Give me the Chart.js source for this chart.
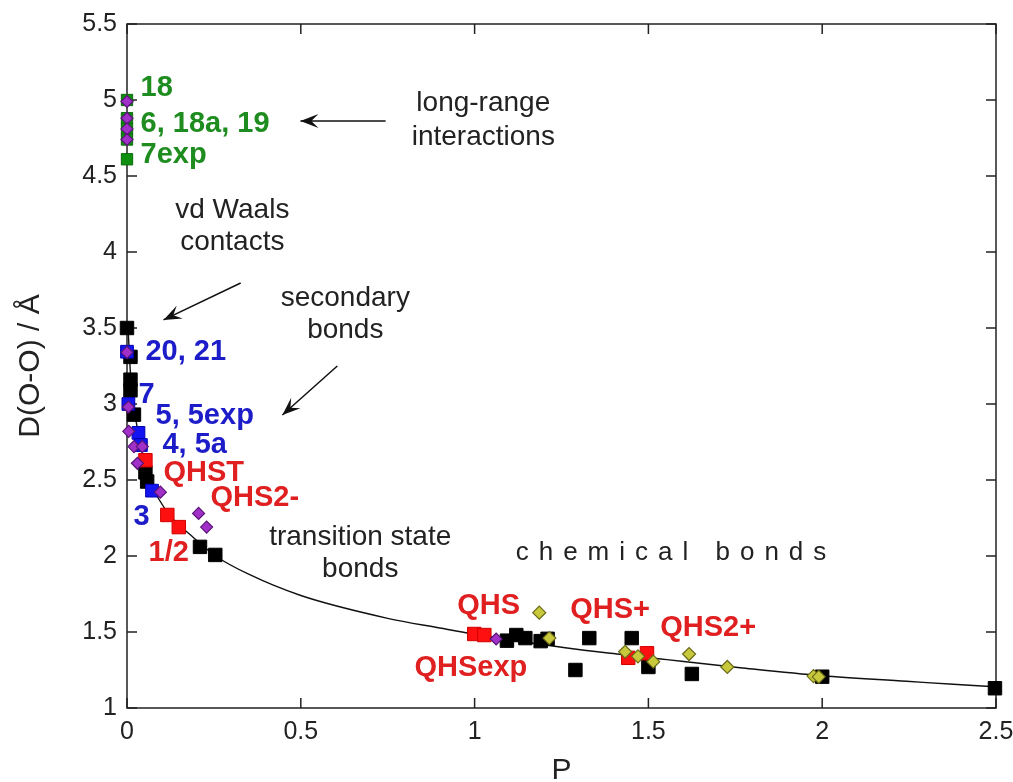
<!DOCTYPE html>
<html><head><meta charset="utf-8">
<script src="https://cdn.jsdelivr.net/npm/chart.js@4.4.1/dist/chart.umd.min.js"></script>
<style>html,body{margin:0;padding:0;background:#fff;overflow:hidden}</style>
</head><body>
<canvas id="c" width="1013" height="782"></canvas>
<script>
// ---- tick values / labels ----
const xTickValues = [0, 0.5, 1, 1.5, 2, 2.5];
const xTickLabels = ['0', '0.5', '1', '1.5', '2', '2.5'];
const yTickValues = [1, 1.5, 2, 2.5, 3, 3.5, 4, 4.5, 5, 5.5];
const yTickLabels = ['1', '1.5', '2', '2.5', '3', '3.5', '4', '4.5', '5', '5.5'];

// ---- series (P, D(O-O)) ----
const blackP = [0, 0.01, 0.01, 0.01, 0.02, 0.053, 0.058, 0.21, 0.254, 1.093, 1.12, 1.146, 1.19, 1.21, 1.29, 1.33, 1.452, 1.50, 1.625, 2.0, 2.497];
const blackD = [3.5, 3.31, 3.16, 3.09, 2.93, 2.55, 2.49, 2.06, 2.007, 1.443, 1.48, 1.46, 1.44, 1.455, 1.25, 1.46, 1.46, 1.27, 1.224, 1.206, 1.13];

const redP = [0.053, 0.116, 0.149, 0.999, 1.028, 1.442, 1.496];
const redD = [2.63, 2.27, 2.19, 1.487, 1.48, 1.33, 1.36];

const blueP = [0.0, 0.004, 0.033, 0.04, 0.072];
const blueD = [3.344, 3.0, 2.81, 2.73, 2.43];

const greenP = [0, 0, 0, 0, 0];
const greenD = [5.0, 4.88, 4.81, 4.74, 4.61];

const purpleP = [0, 0, 0, 0, 0.0, 0.004, 0.005, 0.02, 0.044, 0.03, 0.096, 0.206, 0.229, 1.062];
const purpleD = [4.99, 4.88, 4.81, 4.74, 3.34, 2.98, 2.82, 2.72, 2.72, 2.61, 2.42, 2.28, 2.19, 1.454];

const yellowP = [1.186, 1.215, 1.433, 1.47, 1.514, 1.617, 1.727, 1.975, 1.99];
const yellowD = [1.627, 1.46, 1.37, 1.34, 1.305, 1.355, 1.27, 1.21, 1.205];

const curveP = [0.003, 0.01, 0.02, 0.035, 0.05, 0.07, 0.09, 0.13, 0.187, 0.255, 0.35, 0.5, 0.75, 0.9, 1.0, 1.266, 1.41, 1.553, 1.764, 2.0, 2.243, 2.377, 2.5];
const curveD = [3.5, 3.2, 2.98, 2.78, 2.62, 2.48, 2.38, 2.25, 2.13, 2.0, 1.88, 1.74, 1.59, 1.526, 1.485, 1.395, 1.355, 1.318, 1.265, 1.212, 1.176, 1.156, 1.14];

// ---- annotation texts ----
const pointLabels = [
  {t: '18',         x: 0.039, y: 5.08,  c: '#1e8c1e'},
  {t: '6, 18a, 19', x: 0.039, y: 4.84,  c: '#1e8c1e'},
  {t: '7exp',       x: 0.039, y: 4.64,  c: '#1e8c1e'},
  {t: '20, 21',     x: 0.053, y: 3.34,  c: '#1c1cc8'},
  {t: '7',          x: 0.033, y: 3.06,  c: '#1c1cc8'},
  {t: '5, 5exp',    x: 0.082, y: 2.92,  c: '#1c1cc8'},
  {t: '4, 5a',      x: 0.102, y: 2.73,  c: '#1c1cc8'},
  {t: 'QHST',       x: 0.105, y: 2.546, c: '#e02020'},
  {t: 'QHS2-',      x: 0.24,  y: 2.38,  c: '#e02020'},
  {t: '3',          x: 0.019, y: 2.257, c: '#1c1cc8'},
  {t: '1/2',        x: 0.062, y: 2.02,  c: '#e02020'},
  {t: 'QHS',        x: 0.95,  y: 1.67,  c: '#e02020'},
  {t: 'QHSexp',     x: 0.827, y: 1.263, c: '#e02020'},
  {t: 'QHS+',       x: 1.275, y: 1.645, c: '#e02020'},
  {t: 'QHS2+',      x: 1.534, y: 1.526, c: '#e02020'}
];
const notes = [
  {t: 'long-range',       x: 1.025, y: 4.98},
  {t: 'interactions',     x: 1.025, y: 4.757},
  {t: 'vd Waals',         x: 0.303, y: 4.276},
  {t: 'contacts',         x: 0.303, y: 4.066},
  {t: 'secondary',        x: 0.628, y: 3.697},
  {t: 'bonds',            x: 0.628, y: 3.487},
  {t: 'transition state', x: 0.671, y: 2.125},
  {t: 'bonds',            x: 0.671, y: 1.914}
];
const spacedNote = {t: 'chemical bonds', x: 1.565, y: 2.02};
const arrows = [
  {x1: 0.744, y1: 4.862, x2: 0.499, y2: 4.862},
  {x1: 0.327, y1: 3.796, x2: 0.105, y2: 3.553},
  {x1: 0.605, y1: 3.25,  x2: 0.447, y2: 2.928}
];

const FONT = '"Liberation Sans", Arial, sans-serif';
const toXY = (P, D) => P.map((p, i) => ({x: p, y: D[i]}));

const framePlugin = {
  id: 'frame',
  beforeDatasetsDraw(chart) {
    const {ctx, chartArea: a, scales: {x, y}} = chart;
    ctx.save();
    ctx.strokeStyle = '#222';
    ctx.lineWidth = 1.5;
    ctx.strokeRect(a.left, a.top, a.right - a.left, a.bottom - a.top);
    ctx.beginPath();
    const L = 10;
    xTickValues.forEach(v => {
      const px = x.getPixelForValue(v);
      ctx.moveTo(px, a.bottom); ctx.lineTo(px, a.bottom - L);
      ctx.moveTo(px, a.top); ctx.lineTo(px, a.top + L);
    });
    yTickValues.forEach(v => {
      const py = y.getPixelForValue(v);
      ctx.moveTo(a.left, py); ctx.lineTo(a.left + L, py);
      ctx.moveTo(a.right, py); ctx.lineTo(a.right - L, py);
    });
    ctx.stroke();
    ctx.restore();
  }
};

function drawArrow(ctx, x1, y1, x2, y2) {
  ctx.beginPath();
  ctx.moveTo(x1, y1); ctx.lineTo(x2, y2);
  ctx.stroke();
  const ang = Math.atan2(y2 - y1, x2 - x1);
  const len = 18, hw = 7;
  const bx = x2 - len * Math.cos(ang), by = y2 - len * Math.sin(ang);
  const nx = -Math.sin(ang), ny = Math.cos(ang);
  const mx = x2 - len * 0.6 * Math.cos(ang), my = y2 - len * 0.6 * Math.sin(ang);
  ctx.beginPath();
  ctx.moveTo(x2, y2);
  ctx.lineTo(bx + nx * hw, by + ny * hw);
  ctx.lineTo(mx, my);
  ctx.lineTo(bx - nx * hw, by - ny * hw);
  ctx.closePath();
  ctx.fill();
}

const notesPlugin = {
  id: 'notes',
  afterDatasetsDraw(chart) {
    const {ctx, scales: {x, y}} = chart;
    ctx.save();
    ctx.textBaseline = 'middle';
    ctx.textAlign = 'left';
    ctx.font = 'bold 29px ' + FONT;
    pointLabels.forEach(l => {
      ctx.fillStyle = l.c;
      ctx.fillText(l.t, x.getPixelForValue(l.x), y.getPixelForValue(l.y));
    });
    ctx.fillStyle = '#222';
    ctx.textAlign = 'center';
    ctx.font = '28px ' + FONT;
    notes.forEach(n => ctx.fillText(n.t, x.getPixelForValue(n.x), y.getPixelForValue(n.y)));
    // letter-spaced text
    ctx.font = '26px ' + FONT;
    ctx.textAlign = 'left';
    const gap = 10;
    const chars = spacedNote.t.split('');
    let total = 0;
    chars.forEach((ch, i) => { total += ctx.measureText(ch).width + (i < chars.length - 1 ? gap : 0); });
    let cx = x.getPixelForValue(spacedNote.x) - total / 2;
    const cy = y.getPixelForValue(spacedNote.y);
    chars.forEach(ch => { ctx.fillText(ch, cx, cy); cx += ctx.measureText(ch).width + gap; });
    // arrows
    ctx.strokeStyle = '#111';
    ctx.fillStyle = '#111';
    ctx.lineWidth = 1.5;
    arrows.forEach(a => drawArrow(ctx, x.getPixelForValue(a.x1), y.getPixelForValue(a.y1),
                                       x.getPixelForValue(a.x2), y.getPixelForValue(a.y2)));
    ctx.restore();
  }
};

const sq = (data, fill, border, r) => ({
  type: 'scatter', data, pointStyle: 'rect', pointRadius: r, pointHoverRadius: r,
  backgroundColor: fill, borderColor: border, borderWidth: 1, clip: false
});
const dia = (data, fill, border, r) => ({
  type: 'scatter', data, pointStyle: 'rectRot', pointRadius: r, pointHoverRadius: r,
  backgroundColor: fill, borderColor: border, borderWidth: 1.2, clip: false
});

new Chart(document.getElementById('c'), {
  type: 'scatter',
  data: {
    datasets: [
      dia(toXY(purpleP, purpleD), '#a030c8', '#5a1478', 6),
      dia(toXY(yellowP, yellowD), '#c8c83c', '#6a6a1a', 6.5),
      sq(toXY(redP, redD), '#ff1010', '#d00000', 9.5),
      sq(toXY(blueP, blueD), '#1414f0', '#0000b0', 9),
      sq(toXY(greenP, greenD), '#0f8f0f', '#0a6a0a', 8),
      sq(toXY(blackP, blackD), '#000', '#000', 9.5),
      {type: 'line', data: toXY(curveP, curveD), borderColor: '#111', borderWidth: 1.4,
       pointRadius: 0, fill: false, tension: 0.4, cubicInterpolationMode: 'monotone', clip: false}
    ]
  },
  options: {
    responsive: false,
    devicePixelRatio: 1,
    animation: false,
    events: [],
    layout: {padding: {left: 0, right: 17, top: 24, bottom: 0}},
    plugins: {legend: {display: false}, tooltip: {enabled: false}},
    scales: {
      x: {
        type: 'linear', min: 0, max: 2.5,
        afterBuildTicks: s => { s.ticks = xTickValues.map(v => ({value: v})); },
        afterFit: s => { s.height = 74; s.paddingLeft = 0; s.paddingRight = 0; },
        grid: {display: false, drawTicks: false},
        border: {display: false},
        ticks: {
          autoSkip: false, maxRotation: 0, padding: 9, color: '#222',
          font: {family: FONT, size: 25},
          callback: (v) => xTickLabels[xTickValues.indexOf(v)]
        },
        title: {display: true, text: 'P', color: '#222',
                font: {family: FONT, size: 30, lineHeight: 1}, padding: {top: 0, bottom: -4}}
      },
      y: {
        type: 'linear', min: 1, max: 5.5,
        afterBuildTicks: s => { s.ticks = yTickValues.map(v => ({value: v})); },
        afterFit: s => { s.width = 127; s.paddingTop = 0; s.paddingBottom = 0; },
        grid: {display: false, drawTicks: false},
        border: {display: false},
        ticks: {
          autoSkip: false, padding: 10, color: '#222',
          font: {family: FONT, size: 25},
          callback: (v) => yTickLabels[yTickValues.indexOf(v)]
        },
        title: {display: true, text: 'D(O-O) / Å', color: '#222',
                font: {family: FONT, size: 30, lineHeight: 1}, padding: {top: 16, bottom: 0}}
      }
    }
  },
  plugins: [framePlugin, notesPlugin]
});
</script>
</body></html>
